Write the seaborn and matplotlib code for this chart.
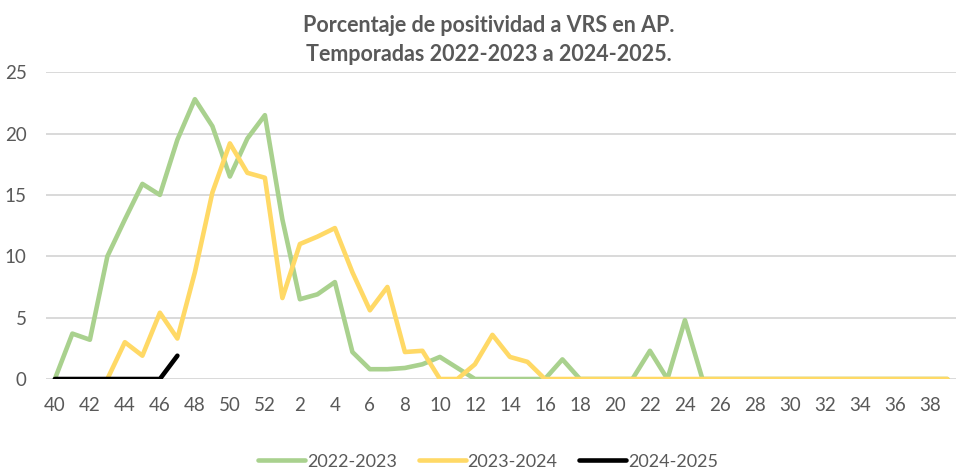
import numpy as np
import pandas as pd
import seaborn as sns
import matplotlib.pyplot as plt

# semanas epidemiologicas (40 a 52, luego 1 a 39)
semanas = list(range(40, 53)) + list(range(1, 40))

nan = np.nan
t2022 = [0, 3.7, 3.2, 10.0, 13.0, 15.9, 15.0, 19.5, 22.8, 20.6, 16.5, 19.6, 21.5,
         13.0, 6.5, 6.9, 7.9, 2.2, 0.8, 0.8, 0.9, 1.2, 1.8, 0.9, 0, 0, 0, 0, 0,
         1.6, 0, 0, 0, 0, 2.3, 0, 4.8, 0, 0, 0, 0, 0, 0, 0, 0, 0, 0, 0, 0, 0, 0, 0]
t2023 = [nan, nan, nan, 0, 3.0, 1.9, 5.4, 3.3, 8.7, 15.2, 19.2, 16.8, 16.4,
         6.6, 11.0, 11.6, 12.3, 8.7, 5.6, 7.5, 2.2, 2.3, 0, 0, 1.2, 3.6, 1.8, 1.4,
         0, 0, 0, 0, 0, 0, 0, 0, 0, 0, 0, 0, 0, 0, 0, 0, 0, 0, 0, 0, 0, 0, 0, 0]
t2024 = [0, 0, 0, 0, 0, 0, 0, 1.9] + [nan] * 44

temporadas = ['2022-2023', '2023-2024', '2024-2025']
colores = ['#A9D18E', '#FFD966', '#000000']

df = pd.DataFrame({'pos': range(len(semanas)), '2022-2023': t2022,
                   '2023-2024': t2023, '2024-2025': t2024})
melted = pd.melt(df, id_vars=['pos'], value_vars=temporadas,
                 var_name='Temporada', value_name='Valor').dropna()

sns.set_style('white')
plt.rcParams['font.family'] = ['Lato', 'DejaVu Sans']
gris = '#595959'

fig = plt.figure(figsize=(9.61, 4.72), dpi=100)
ax = fig.add_axes([0.048, 0.197, 0.947, 0.650])
sns.lineplot(x='pos', y='Valor', hue='Temporada', data=melted, ax=ax,
             palette=dict(zip(temporadas, colores)), linewidth=3.3,
             hue_order=temporadas)

ax.set_xlim(-0.5, len(semanas) - 0.5)
ax.set_ylim(0, 25)
ax.set_yticks([0, 5, 10, 15, 20, 25])
ax.set_xticks(range(0, len(semanas), 2))
ax.set_xticklabels([str(s) for s in semanas[::2]])
ax.yaxis.grid(True, color='#D9D9D9', linewidth=1.4)
ax.set_axisbelow(True)
for s in ['top', 'right', 'left', 'bottom']:
    ax.spines[s].set_visible(False)
ax.tick_params(axis='both', length=0, labelsize=13.5, colors=gris)
ax.tick_params(axis='x', pad=13)
ax.tick_params(axis='y', pad=14)
ax.set_xlabel('')
ax.set_ylabel('')

fig.text(0.509, 0.968, 'Porcentaje de positividad a VRS en AP.\nTemporadas 2022-2023 a 2024-2025.',
         ha='center', va='top', fontsize=15.5, fontweight='bold', color=gris,
         linespacing=1.45)

ax.legend_.remove()
h, l = ax.get_legend_handles_labels()
leg = fig.legend(h, l, loc='center', bbox_to_anchor=(0.508, 0.022), ncol=3,
                 frameon=False, fontsize=13, handlelength=2.6, handletextpad=0.1,
                 columnspacing=1.2)
for t in leg.get_texts():
    t.set_color(gris)

plt.savefig('out.png', dpi=100)
